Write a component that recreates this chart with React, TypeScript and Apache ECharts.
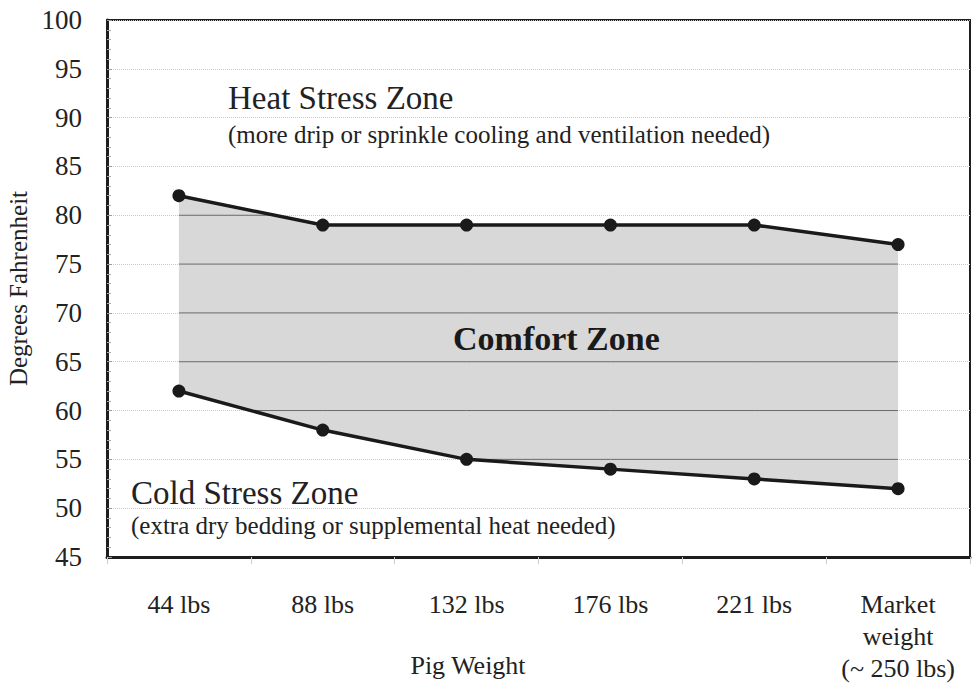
import React, { useEffect, useRef } from "react";
import * as echarts from "echarts";

const categories = ["44 lbs", "88 lbs", "132 lbs", "176 lbs", "221 lbs", "Market\nweight\n(~ 250 lbs)"];
const upperValues = [82, 79, 79, 79, 79, 77];
const lowerValues = [62, 58, 55, 54, 53, 52];
const yMin = 45;
const yMax = 100;
const yStep = 5;
const gridValues: number[] = [];
for (let v = yMin; v <= yMax; v += yStep) gridValues.push(v);

const FF = "Liberation Serif, Times New Roman, serif";

function segmentsForLevel(v: number): Array<[number, number, number]> {
  const out: Array<[number, number, number]> = [];
  for (let i = 0; i < upperValues.length - 1; i++) {
    let lo = 0;
    let hi = 1;
    const constrain = (a: number, b: number) => {
      if (Math.abs(b) < 1e-9) {
        if (a < 0) { lo = 1; hi = 0; }
      } else if (b > 0) {
        lo = Math.max(lo, -a / b);
      } else {
        hi = Math.min(hi, -a / b);
      }
    };
    const l0 = lowerValues[i], l1 = lowerValues[i + 1];
    const u0 = upperValues[i], u1 = upperValues[i + 1];
    constrain(v - l0, -(l1 - l0));
    constrain(u0 - v, u1 - u0);
    if (hi - lo > 1e-6) out.push([i, lo, hi]);
  }
  return out;
}

export default function App() {
  const ref = useRef<HTMLDivElement>(null);
  useEffect(() => {
    document.body.style.margin = "0";
    if (!ref.current) return;
    const chart = echarts.init(ref.current, null, { renderer: "svg" });
    const option: any = {
      animation: false,
      backgroundColor: "#ffffff",
      grid: {
        left: 107, right: 2, top: 20, bottom: 126,
        outerBoundsMode: "none",
        containLabel: false,
        show: true, borderColor: "#1e1e1e", borderWidth: 2, backgroundColor: "transparent",
      },
      xAxis: {
        type: "category",
        data: categories,
        boundaryGap: true,
        axisLine: { show: true, lineStyle: { color: "#1e1e1e", width: 3 } },
        axisTick: { show: true, length: 7, lineStyle: { color: "#cccccc", width: 1 } },
        axisLabel: { interval: 0, color: "#222", fontFamily: FF, fontSize: 26, lineHeight: 32, margin: 31 },
        splitLine: { show: false },
      },
      yAxis: {
        type: "value",
        min: yMin,
        max: yMax,
        interval: yStep,
        name: "Degrees Fahrenheit",
        nameLocation: "middle",
        nameGap: 72,
        nameTextStyle: { color: "#222", fontFamily: FF, fontSize: 25 },
        axisLine: { show: true, lineStyle: { color: "#1e1e1e", width: 3 } },
        axisTick: { show: true, inside: true, length: 5, lineStyle: { color: "#999" } },
        minorTick: { show: true, splitNumber: 5, length: 4, lineStyle: { color: "#aaa" } },
        axisLabel: { color: "#222", fontFamily: FF, fontSize: 27, margin: 25 },
        splitLine: { show: true, lineStyle: { color: "#c8c8c8", width: 1, type: "dotted" } },
      },
      series: [
        {
          type: "custom",
          coordinateSystem: "cartesian2d",
          silent: true,
          z: 1,
          data: [[0, yMin]],
          encode: { x: 0, y: 1 },
          renderItem: (params: any, api: any) => {
            const pts: number[][] = [];
            upperValues.forEach((v, i) => pts.push(api.coord([i, v])));
            for (let i = lowerValues.length - 1; i >= 0; i--) pts.push(api.coord([i, lowerValues[i]]));
            const children: any[] = [
              { type: "polygon", shape: { points: pts }, style: { fill: "#d8d8d8", stroke: "none" } },
            ];
            gridValues.forEach((v) => {
              segmentsForLevel(v).forEach(([i, a, b]) => {
                const p0 = api.coord([i, v]);
                const p1 = api.coord([i + 1, v]);
                const xa = p0[0] + (p1[0] - p0[0]) * a;
                const xb = p0[0] + (p1[0] - p0[0]) * b;
                children.push({
                  type: "line",
                  shape: { x1: xa, y1: p0[1], x2: xb, y2: p0[1] },
                  style: { stroke: "#6a6a6a", lineWidth: 1 },
                });
              });
            });
            return { type: "group", children };
          },
        },
        {
          name: "Upper",
          type: "line",
          data: upperValues,
          z: 3,
          symbol: "circle",
          symbolSize: 13,
          lineStyle: { color: "#1a1a1a", width: 3.5 },
          itemStyle: { color: "#1a1a1a" },
          silent: true,
        },
        {
          name: "Lower",
          type: "line",
          data: lowerValues,
          z: 3,
          symbol: "circle",
          symbolSize: 13,
          lineStyle: { color: "#1a1a1a", width: 3.5 },
          itemStyle: { color: "#1a1a1a" },
          silent: true,
        },
      ],
      graphic: [
        { type: "text", x: 228, y: 98, z: 10, style: { text: "Heat Stress Zone", font: `33px ${FF}`, fill: "#222", textAlign: "left", textVerticalAlign: "middle" } },
        { type: "text", x: 228, y: 134, z: 10, style: { text: "(more drip or sprinkle cooling and ventilation needed)", font: `25px ${FF}`, fill: "#222", textAlign: "left", textVerticalAlign: "middle" } },
        { type: "text", x: 453, y: 338, z: 10, style: { text: "Comfort Zone", font: `bold 34px ${FF}`, fill: "#1a1a1a", textAlign: "left", textVerticalAlign: "middle" } },
        { type: "text", x: 131, y: 493, z: 10, style: { text: "Cold Stress Zone", font: `33px ${FF}`, fill: "#222", textAlign: "left", textVerticalAlign: "middle" } },
        { type: "text", x: 131, y: 525, z: 10, style: { text: "(extra dry bedding or supplemental heat needed)", font: `25px ${FF}`, fill: "#222", textAlign: "left", textVerticalAlign: "middle" } },
        { type: "text", x: 468, y: 665, z: 10, style: { text: "Pig Weight", font: `26px ${FF}`, fill: "#222", textAlign: "center", textVerticalAlign: "middle" } },
      ],
    };
    chart.setOption(option);
    return () => chart.dispose();
  }, []);
  return <div ref={ref} style={{ width: 972, height: 683 }} />;
}
